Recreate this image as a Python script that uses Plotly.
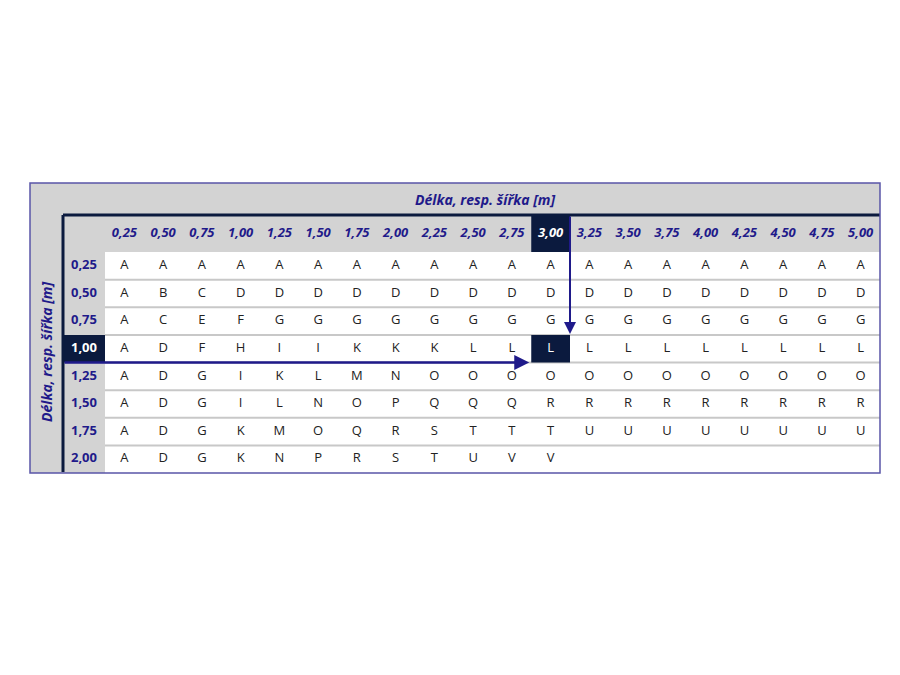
import plotly.graph_objects as go

cols = ["0,25","0,50","0,75","1,00","1,25","1,50","1,75","2,00","2,25","2,50",
        "2,75","3,00","3,25","3,50","3,75","4,00","4,25","4,50","4,75","5,00"]
rows = ["0,25","0,50","0,75","1,00","1,25","1,50","1,75","2,00"]
table = [
    "AAAAAAAAAAAAAAAAAAAA",
    "ABCDDDDDDDDDDDDDDDDD",
    "ACEFGGGGGGGGGGGGGGGG",
    "ADFHIIKKKLLLLLLLLLLL",
    "ADGIKLMNOOOOOOOOOOOO",
    "ADGILNOPQQQRRRRRRRRR",
    "ADGKMOQRSTTTUUUUUUUU",
    "ADGKNPRSTUVV",
]
axis_title = "Délka, resp. šířka [m]"
sel_col, sel_row = 11, 3

NAVY = "#0b1a3e"; BLUE = "#1f1a8a"; GRAY = "#d3d3d3"
X0, X1, XL = 30, 880, 63      # outer left/right, inner left
XC = 105                      # first data column left
Y0, YH, YR, Y1 = 183, 215, 252, 473
cw = (X1 - XC) / len(cols)
rh = (Y1 - YR) / len(rows)

shapes = []
def rect(x0, y0, x1, y1, fill, lw=0, lc=None):
    shapes.append(dict(type="rect", x0=x0, y0=y0, x1=x1, y1=y1, fillcolor=fill,
                       line=dict(width=lw, color=lc or fill), layer="below"))
rect(X0, Y0, X1, Y1, GRAY)
rect(XC, YR, X1, Y1, "white")
for r in range(1, len(rows)):
    y = YR + r * rh
    shapes.append(dict(type="line", x0=XC, x1=X1, y0=y, y1=y, line=dict(color="#c8c8c8", width=2), layer="below"))
rect(XC + sel_col * cw, YH, XC + (sel_col + 1) * cw, YR, NAVY)
rect(XL, YR + sel_row * rh, XC, YR + (sel_row + 1) * rh, NAVY)
rect(XC + sel_col * cw, YR + sel_row * rh, XC + (sel_col + 1) * cw, YR + (sel_row + 1) * rh, NAVY)
shapes.append(dict(type="line", x0=XL, x1=X1, y0=YH, y1=YH, line=dict(color=NAVY, width=3)))
shapes.append(dict(type="line", x0=XL, x1=XL, y0=YH, y1=Y1 - 1, line=dict(color=NAVY, width=3)))
shapes.append(dict(type="rect", x0=X0, y0=Y0, x1=X1, y1=Y1, line=dict(color="#5a56a8", width=1.5)))

tx, ty, tt, tc = [], [], [], []
for r, line in enumerate(table):
    for c, ch in enumerate(line):
        tx.append(XC + (c + .5) * cw); ty.append(YR + (r + .5) * rh); tt.append(ch)
        tc.append("white" if (r, c) == (sel_row, sel_col) else "#222222")

fig = go.Figure()
fig.add_trace(go.Scatter(x=tx, y=ty, text=tt, mode="text", hoverinfo="skip",
                         textfont=dict(family="Open Sans", size=13, color=tc)))
hx = [XC + (c + .5) * cw for c in range(len(cols))]
fig.add_trace(go.Scatter(x=hx, y=[(YH + YR) / 2] * len(cols), text=[f"<b><i>{c}</i></b>" for c in cols],
                         mode="text", hoverinfo="skip",
                         textfont=dict(family="Open Sans", size=13,
                                       color=["white" if i == sel_col else BLUE for i in range(len(cols))])))
fig.add_trace(go.Scatter(x=[(XL + XC) / 2] * len(rows), y=[YR + (r + .5) * rh for r in range(len(rows))],
                         text=[f"<b>{r}</b>" for r in rows], mode="text", hoverinfo="skip",
                         textfont=dict(family="Open Sans", size=13,
                                       color=["white" if i == sel_row else BLUE for i in range(len(rows))])))

ann = [
    dict(x=(X0 + X1) / 2 + 30, y=(Y0 + YH) / 2, text=f"<b><i>{axis_title}</i></b>", showarrow=False,
         font=dict(family="Open Sans", size=14, color=BLUE)),
    dict(x=(X0 + XL) / 2, y=(YR + Y1) / 2 - 10, text=f"<b><i>{axis_title}</i></b>", showarrow=False,
         textangle=-90, font=dict(family="Open Sans", size=14, color=BLUE)),
    dict(x=XC + sel_col * cw - 2, y=YR + (sel_row + 1) * rh, ax=XL, ay=YR + (sel_row + 1) * rh,
         xref="x", yref="y", axref="x", ayref="y", showarrow=True, arrowhead=2, arrowsize=1.2,
         arrowwidth=2.5, arrowcolor=BLUE, text=""),
    dict(x=XC + (sel_col + 1) * cw, y=YR + sel_row * rh - 1, ax=XC + (sel_col + 1) * cw, ay=YH,
         xref="x", yref="y", axref="x", ayref="y", showarrow=True, arrowhead=2, arrowsize=1.2,
         arrowwidth=2, arrowcolor=BLUE, text=""),
]

# page body has an 8px margin; offset the pixel-space ranges to compensate
fig.update_layout(width=900, height=675, margin=dict(l=0, r=0, t=0, b=0),
                  paper_bgcolor="white", plot_bgcolor="white", showlegend=False,
                  shapes=shapes, annotations=ann,
                  xaxis=dict(range=[8, 908], visible=False, fixedrange=True),
                  yaxis=dict(range=[683, 8], visible=False, fixedrange=True))
fig.write_html("out.html")
